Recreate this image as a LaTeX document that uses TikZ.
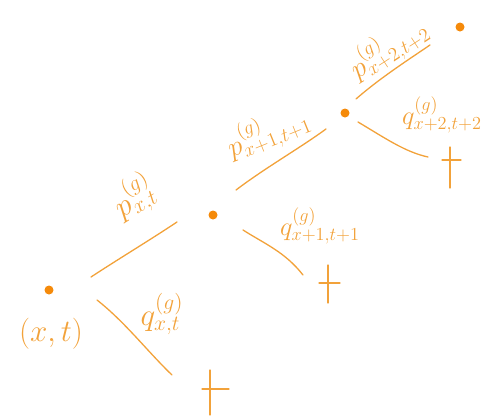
\documentclass[tikz,border=0pt]{standalone}
\begin{document}
\begin{tikzpicture}[x=1pt,y=-1pt,
  stroke/.style={draw=lineor,line width=1.3pt,line cap=round},
  dotn/.style={circle,fill=dotor,inner sep=0pt,minimum size=9pt},
  lab/.style={text=lineor,inner sep=0pt,font=\LARGE,scale=1.8},
  ]
\definecolor{lineor}{HTML}{F2A23A}
\definecolor{dotor}{HTML}{F58A0A}
\useasboundingbox (0,0) rectangle (496,418);
% dots
\node[dotn] (d1) at (49,290) {};
\node[dotn] (d2) at (213,215) {};
\node[dotn] (d3) at (345,113) {};
\node[dotn] (d4) at (460,27) {};
% line endpoints
\coordinate (p1a) at (91,277); \coordinate (p1b) at (177,222);
\coordinate (q1a) at (97,300); \coordinate (q1b) at (172,375);
\coordinate (p2a) at (236,190); \coordinate (p2b) at (326,129);
\coordinate (q2a) at (243,230); \coordinate (q2b) at (303,275);
\coordinate (p3a) at (356,99); \coordinate (p3b) at (430,45);
\coordinate (q3a) at (358,122); \coordinate (q3b) at (428,157);
\draw[stroke] (p1a) .. controls (120,258) and (150,240) .. (p1b);
\draw[stroke] (q1a) .. controls (125,322) and (148,352) .. (q1b);
\draw[stroke] (p2a) .. controls (265,168) and (300,148) .. (p2b);
\draw[stroke] (q2a) .. controls (265,244) and (285,252) .. (q2b);
\draw[stroke] (p3a) .. controls (380,78) and (408,60) .. (p3b);
\draw[stroke] (q3a) .. controls (385,138) and (405,152) .. (q3b);
% crosses
\coordinate (c1t) at (210,370); \coordinate (c1b) at (210,415);
\coordinate (c1l) at (202,389); \coordinate (c1r) at (229,389);
\draw[stroke] (c1t) -- (c1b); \draw[stroke] (c1l) -- (c1r);
\coordinate (c2t) at (328,265); \coordinate (c2b) at (328,303);
\coordinate (c2l) at (319,283); \coordinate (c2r) at (340,283);
\draw[stroke] (c2t) -- (c2b); \draw[stroke] (c2l) -- (c2r);
\coordinate (c3t) at (450,147); \coordinate (c3b) at (450,188);
\coordinate (c3l) at (442,160); \coordinate (c3r) at (461,160);
\draw[stroke] (c3t) -- (c3b); \draw[stroke] (c3l) -- (c3r);
% labels
\node[lab] (xt) at (51,334) {$(x,t)$};
\node[lab,rotate=32] (lp1) at (134,197) {$p^{(g)}_{x,t}$};
\node[lab] (lq1) at (162,314) {$q^{(g)}_{x,t}$};
\node[lab,rotate=22,scale=0.9] (lp2) at (268,132) {$p^{(g)}_{x+1,t+1}$};
\node[lab,scale=0.85] (lq2) at (320,226) {$q^{(g)}_{x+1,t+1}$};
\node[lab,rotate=33,scale=0.9] (lp3) at (388,48) {$p^{(g)}_{x+2,t+2}$};
\node[lab,scale=0.85] (lq3) at (442,115) {$q^{(g)}_{x+2,t+2}$};
\end{tikzpicture}
\end{document}
